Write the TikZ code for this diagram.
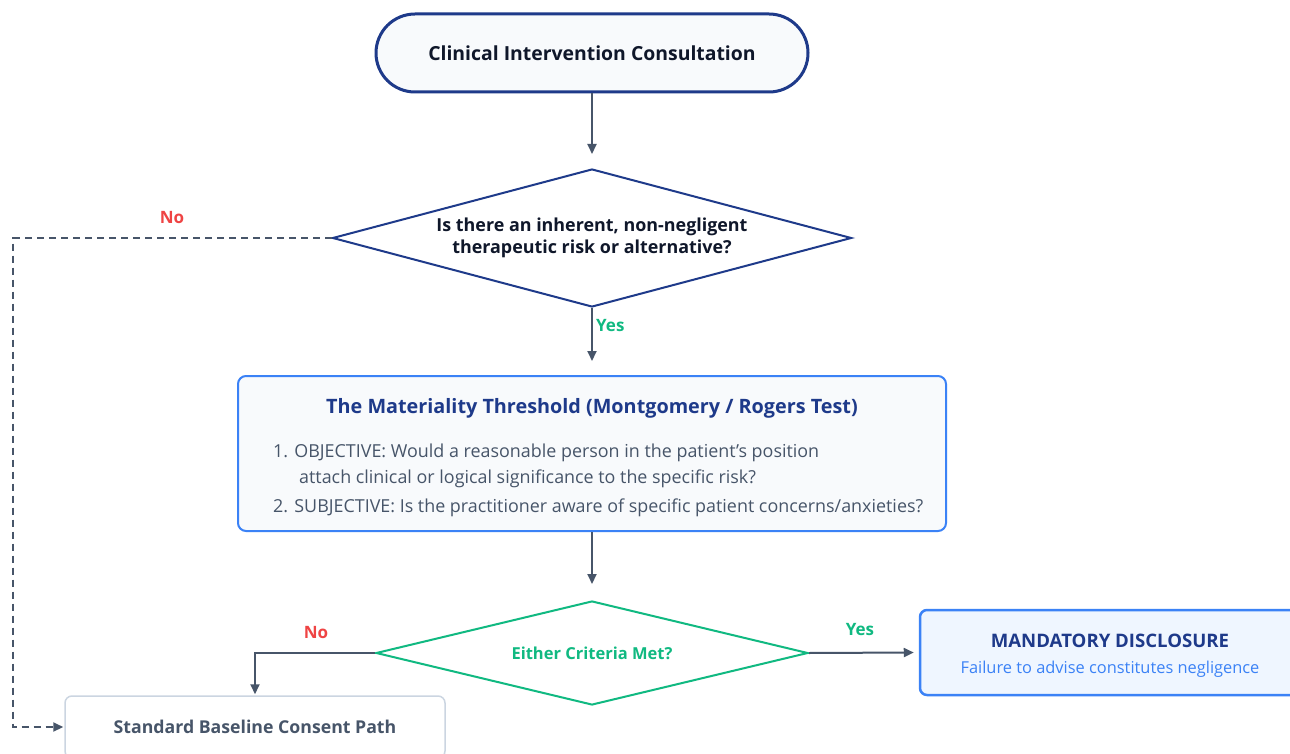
\documentclass[tikz,border=0pt]{standalone}
\usepackage{fontspec}
\setmainfont{Open Sans}
\usetikzlibrary{shapes.geometric,arrows.meta}

\definecolor{navy}{HTML}{1E3A8A}
\definecolor{brightblue}{HTML}{3B82F6}
\definecolor{okgreen}{HTML}{10B981}
\definecolor{nored}{HTML}{EF4444}
\definecolor{slate}{HTML}{475569}
\definecolor{lightline}{HTML}{CBD5E1}
\definecolor{paper}{HTML}{F8FAFC}
\definecolor{paleblue}{HTML}{EFF6FF}
\definecolor{inktext}{HTML}{0F172A}

\newcommand{\fsz}[2]{\fontsize{#1}{#2}\selectfont}

\tikzset{
  flow/.style={draw=slate, line width=2pt, -{Triangle[length=10pt,width=9pt]}},
  dashflow/.style={flow, line width=2.2pt, dash pattern=on 7pt off 5pt},
  startbox/.style={draw=navy, line width=3pt, fill=paper, rounded corners=39pt,
    minimum width=432pt, minimum height=78pt, inner sep=0pt,
    font=\fsz{19.4}{23}\bfseries, text=inktext},
  decision/.style={diamond, draw=navy, line width=2pt, fill=white, inner sep=0pt,
    font=\fsz{17.9}{22}\bfseries, text=inktext, align=center},
  panel/.style={draw=brightblue, line width=2pt, fill=paper, rounded corners=8pt,
    minimum width=708pt, minimum height=155pt, inner sep=0pt},
  bodytext/.style={anchor=west, text=slate, font=\fsz{17.9}{20}, inner sep=0pt},
  yeslbl/.style={text=okgreen, font=\fsz{17}{20}\bfseries, inner sep=0pt},
  nolbl/.style={text=nored, font=\fsz{17}{20}\bfseries, inner sep=0pt},
}

\begin{document}
\begin{tikzpicture}[x=1pt, y=-1pt]
\clip (0,0) rectangle (1290,754);
\fill[white] (0,0) rectangle (1290,754);

% start
\node[startbox] (start) at (592,53) {Clinical Intervention Consultation};

% first question
\node[decision, aspect=3.76, minimum width=519pt, minimum height=138pt] (risk) at (592,238)
  {Is there an inherent, non-negligent\\therapeutic risk or alternative?};

% materiality panel
\node[panel] (test) at (592,453.5) {};
\node[text=navy, font=\fsz{19.8}{23}\bfseries, inner sep=0pt] (testtitle) at (592,408)
  {The Materiality Threshold (Montgomery / Rogers Test)};
\node[bodytext] (obj1) at (273,453)
  {1. OBJECTIVE: Would a reasonable person in the patient's position};
\node[bodytext] (obj2) at (299,479)
  {attach clinical or logical significance to the specific risk?};
\node[bodytext] (subj) at (273,508)
  {2. SUBJECTIVE: Is the practitioner aware of specific patient concerns/anxieties?};

% second question
\node[decision, aspect=4.15, draw=okgreen, text=okgreen, font=\fsz{16.5}{20}\bfseries,
  minimum width=432pt, minimum height=104pt] (either) at (592,653) {Either Criteria Met?};

% outcomes
\node[draw=brightblue, line width=2.5pt, fill=paleblue, rounded corners=7pt,
  minimum width=380pt, minimum height=85pt, inner sep=0pt] (disc) at (1110,652.5) {};
\node[text=navy, font=\fsz{18.6}{22}\bfseries, inner sep=0pt] (disctitle) at (1110,641)
  {MANDATORY DISCLOSURE};
\node[text=brightblue, font=\fsz{16.4}{18}, inner sep=0pt] (discsub) at (1110,669)
  {Failure to advise constitutes negligence};

\node[draw=lightline, line width=1.5pt, fill=white, rounded corners=7pt,
  minimum width=380pt, minimum height=62pt, inner sep=0pt,
  text=slate, font=\fsz{17.7}{20}\bfseries] (std) at (255,727) {Standard Baseline Consent Path};

% connectors
\draw[flow] (start.south) -- ([yshift=14pt]risk.north);
\draw[flow] (risk.south) -- ([yshift=14pt]test.north);
\draw[flow] (test.south) -- ([yshift=16pt]either.north);
\draw[flow] (either.east) -- ([xshift=-5pt]disc.west);
\draw[flow] (either.west) -| ([yshift=1pt]std.north);
\coordinate (bend) at (13,238);
\draw[dashflow] (risk.west) -- (bend) |- ([xshift=-1pt]std.west);

% branch labels
\node[nolbl] (no1) at (172,218) {No};
\node[yeslbl, anchor=west] (yes1) at (596,326) {Yes};
\node[nolbl] (no2) at (316,633) {No};
\node[yeslbl] (yes2) at (860,630) {Yes};
\end{tikzpicture}
\end{document}
